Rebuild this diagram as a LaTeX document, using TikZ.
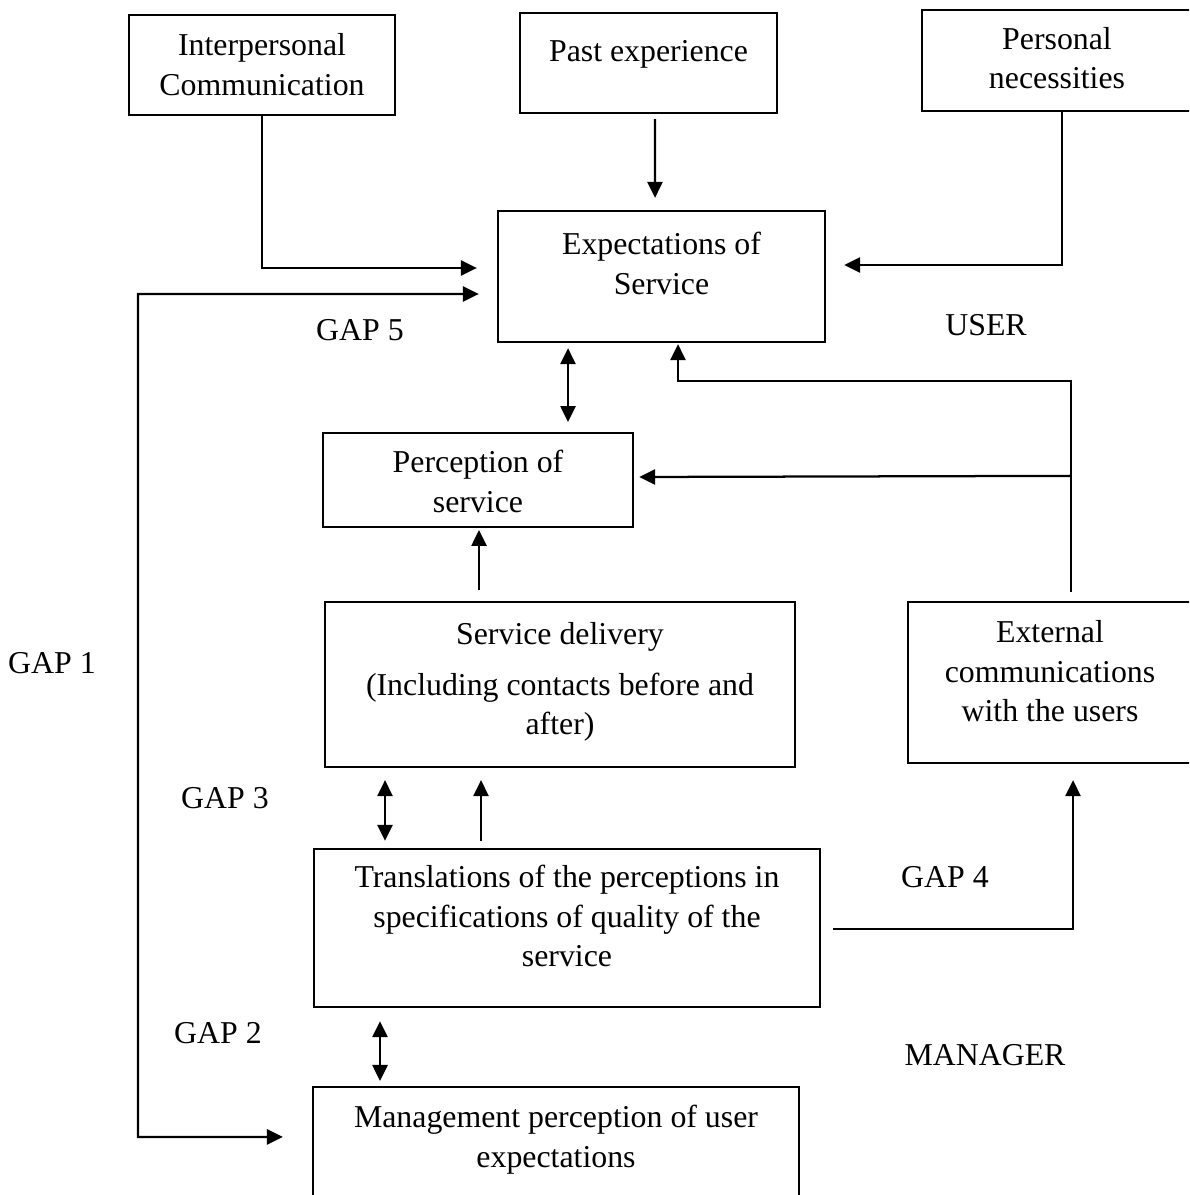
\documentclass[tikz,border=0pt]{standalone}
\usepackage{fontspec}
\setmainfont{Liberation Serif}
\usetikzlibrary{arrows.meta,calc}

\tikzset{
    box/.style={draw, line width=0.85pt, inner sep=0pt},
    txt/.style={anchor=north, align=center, inner sep=0pt},
    gaplbl/.style={inner sep=0pt},
    arr/.style={line width=0.85pt, -{Triangle[length=6pt,width=5.7pt]}},
    dbl/.style={line width=0.85pt,
        {Triangle[length=6pt,width=5.7pt]}-{Triangle[length=6pt,width=5.7pt]}}
}

\begin{document}
\begin{tikzpicture}[x=0.377pt, y=-0.377pt,
    every node/.style={font=\fontsize{12}{14.9}\selectfont}]

    \useasboundingbox (0,0) rectangle (1189,1195);
    \clip (0,0) rectangle (1189,1195);

    % Top row
    \node[box, minimum width=100.3pt, minimum height=37.7pt] (inter) at (262,65) {};
    \node[txt] (intertxt) at ($(inter.north)+(0,19)$) {Interpersonal\\Communication};

    \node[box, minimum width=96.9pt, minimum height=37.7pt] (past) at (648.5,63) {};
    \node[txt] (pasttxt) at ($(past.north)+(0,28)$) {Past experience};

    \node[box, minimum width=101.8pt, minimum height=38.1pt] (personal) at (1057,60.5) {};
    \node[txt] (personaltxt) at ($(personal.north)+(0,18)$) {Personal\\necessities};

    % Expectations
    \node[box, minimum width=123.3pt, minimum height=49.4pt] (expect) at (661.5,276.5) {};
    \node[txt] (expecttxt) at ($(expect.north)+(0,22)$) {Expectations of\\Service};

    % Perception
    \node[box, minimum width=116.9pt, minimum height=35.4pt] (percep) at (478,480) {};
    \node[txt] (perceptxt) at ($(percep.north)+(0,18)$) {Perception of\\service};

    % Delivery and external communications
    \node[box, minimum width=177.2pt, minimum height=62.2pt] (service) at (560,684.5) {};
    \node[txt] (servicetxt) at ($(service.north)+(0,21)$)
        {Service delivery\\[4.3pt](Including contacts before and\\after)};

    \node[box, minimum width=107.1pt, minimum height=60.7pt] (external) at (1050,682.5) {};
    \node[txt] (externaltxt) at ($(external.north)+(0,19)$)
        {External\\communications\\with the users};

    % Translations
    \node[box, minimum width=190.8pt, minimum height=59.6pt] (transl) at (567,928) {};
    \node[txt] (transltxt) at ($(transl.north)+(0,17)$)
        {Translations of the perceptions in\\specifications of quality of the\\service};

    % Management
    \node[box, minimum width=183.2pt, minimum height=60.3pt] (manage) at (556,1167) {};
    \node[txt] (managetxt) at ($(manage.north)+(0,19)$)
        {Management perception of user\\expectations};

    % Gap labels
    \node[gaplbl] (gapone) at (52,663) {GAP 1};
    \node[gaplbl] (gaptwo) at (218,1033) {GAP 2};
    \node[gaplbl] (gapthree) at (225,798) {GAP 3};
    \node[gaplbl] (gapfour) at (945,877) {GAP 4};
    \node[gaplbl] (gapfive) at (360,330) {GAP 5};
    \node[gaplbl] (user) at (986,325) {USER};
    \node[gaplbl] (manager) at (985,1055) {MANAGER};

    % Arrows into expectations
    \draw[arr] (inter.south) |- ($(expect.west)+(-20,-8.5)$);
    \draw[arr] ($(past.south)+(6.5,5)$) -- ($(expect.north)+(-6.5,-12)$);
    \draw[arr] ($(personal.south)+(5,0)$) |- ($(expect.east)+(18,-11.5)$);

    % Gap 1 loop
    \coordinate (gapcorner) at (138,294);
    \draw[dbl] ($(expect.west)+(-18,17.5)$) -- (gapcorner)
        |- ($(manage.north west)+(-29,51)$);

    % Gap 5
    \draw[dbl] ($(expect.south)+(-93.5,5)$) -- ($(percep.north)+(90,-10)$);

    % External communications feedback
    \draw[arr] ($(external.north)+(21,-9)$) |- ($(expect.south)+(16.5,38)$)
        -- ($(expect.south)+(16.5,1)$);
    \draw[arr] ($(external.north)+(21,-125)$) -- ($(percep.east)+(5,-3)$);

    % Delivery to perception
    \draw[arr] ($(service.north)+(-81,-11)$) -- ($(percep.south)+(1,2)$);

    % Gap 3
    \draw[dbl] ($(service.south)+(-175,12)$) -- ($(transl.north)+(-182,-7)$);
    \draw[arr] ($(transl.north)+(-86,-7)$) -- ($(service.south)+(-79,12)$);

    % Gap 4
    \draw[arr] ($(transl.east)+(12,1)$) -| ($(external.south)+(23,16)$);

    % Gap 2
    \draw[dbl] ($(transl.south)+(-187,13)$) -- ($(manage.north)+(-176,-5)$);

\end{tikzpicture}
\end{document}
